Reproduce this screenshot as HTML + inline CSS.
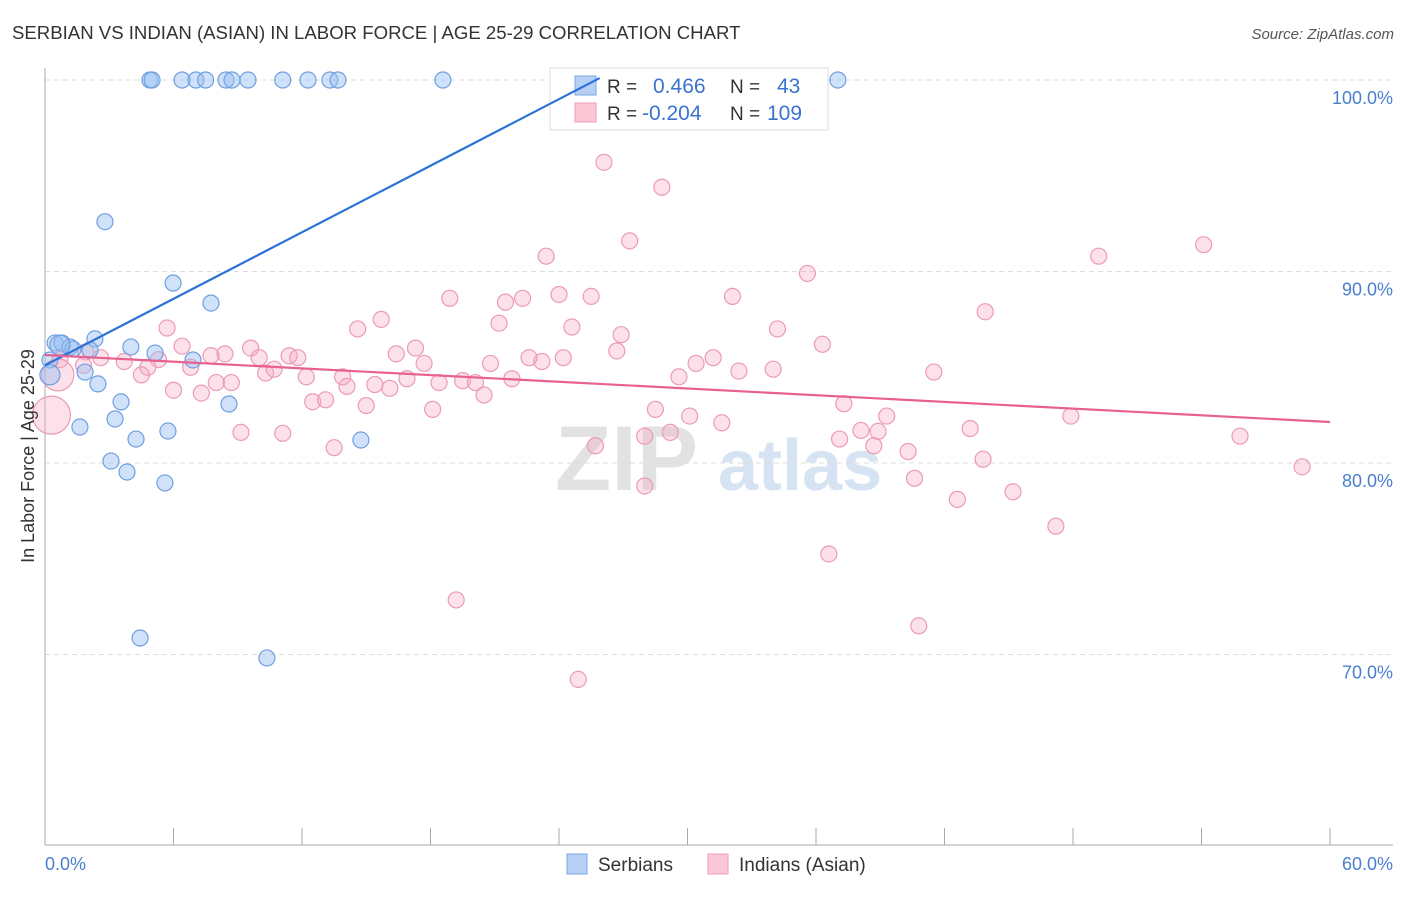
<!DOCTYPE html>
<html><head><meta charset="utf-8">
<style>
body{margin:0;background:#fff;font-family:"Liberation Sans",sans-serif;}
svg text{font-family:"Liberation Sans",sans-serif;}
</style></head>
<body>
<svg id="chart" width="1406" height="892" xmlns="http://www.w3.org/2000/svg">
<text x="12" y="39" font-size="18.6" fill="#333">SERBIAN VS INDIAN (ASIAN) IN LABOR FORCE | AGE 25-29 CORRELATION CHART</text>
<text x="1394" y="39" font-size="15" fill="#555" font-style="italic" text-anchor="end">Source: ZipAtlas.com</text>
<g>
<text x="555" y="490" font-size="92" fill="#e2e2e2" font-family="Liberation Serif" font-weight="bold">ZIP</text>
<text x="718" y="490" font-size="72" fill="#d6e3f3" font-weight="bold">atlas</text>
</g>
<g id="grid"></g>
<g id="axes"></g>
<g>
<rect x="550" y="68" width="278" height="62" fill="#fff" stroke="#ddd"/>
<rect x="575" y="76" width="21" height="19" fill="#b6d0f5" stroke="#7aa7e3"/>
<rect x="575" y="103" width="21" height="19" fill="#fcc8d8" stroke="#ef9db8"/>
<text x="607" y="93" font-size="19" fill="#333">R =</text>
<text x="653" y="93" font-size="21" fill="#3b73d0">0.466</text>
<text x="730" y="93" font-size="19" fill="#333">N =</text>
<text x="777" y="93" font-size="21" fill="#3b73d0">43</text>
<text x="607" y="120" font-size="19" fill="#333">R =</text>
<text x="642" y="120" font-size="21" fill="#3b73d0">-0.204</text>
<text x="730" y="120" font-size="19" fill="#333">N =</text>
<text x="767" y="120" font-size="21" fill="#3b73d0">109</text>
</g>
<g id="pts"></g>
<g id="trends"></g>
<text transform="translate(34,456) rotate(-90)" font-size="18" fill="#333" text-anchor="middle">In Labor Force | Age 25-29</text>
<text x="45" y="870" font-size="18" fill="#4a7fd0">0.0%</text>
<text x="1393" y="870" font-size="18" fill="#4a7fd0" text-anchor="end">60.0%</text>
<g>
<rect x="567" y="854" width="20" height="20" fill="#b6d0f5" stroke="#7aa7e3"/>
<text x="598" y="871" font-size="19" fill="#333">Serbians</text>
<rect x="708" y="854" width="20" height="20" fill="#fcc8d8" stroke="#ef9db8"/>
<text x="739" y="871" font-size="19" fill="#333">Indians (Asian)</text>
</g>
</svg>
<script>
const yTicks=[100,90,80,70];
const yTickLabels=["100.0%","90.0%","80.0%","70.0%"];
const xTicks=[0,6,12,18,24,30,36,42,48,54,60];
const serbX=[4.9,5.0,6.4,7.05,7.5,8.45,8.73,9.48,11.1,12.28,13.3,13.68,18.58,37.02,2.8,5.98,7.75,0.47,0.79,1.17,2.33,2.1,4.01,5.14,6.91,1.31,0.23,1.87,2.47,3.55,3.27,8.59,1.63,5.74,4.25,14.75,3.08,3.83,5.6,4.44,10.36,0.23,0.7];
const serbY=[100,100,100,100,100,100,100,100,100,100,100,100,100,100,92.6,89.4,88.35,86.27,86.27,86.06,86.48,85.9,86.06,85.74,85.38,85.95,85.38,84.75,84.13,83.19,82.3,83.08,81.88,81.67,81.25,81.2,80.1,79.53,78.96,70.86,69.82,84.6,86.16];
const indX=[26.1,28.8,27.3,23.4,54.1,49.2,35.6,18.9,24.0,25.5,21.5,22.3,32.1,43.9,21.2,24.6,26.9,15.7,14.6,34.2,5.7,36.3,17.3,9.6,11.4,6.4,8.4,7.75,11.8,10.0,23.2,24.2,16.4,17.7,20.8,22.6,26.7,31.2,30.4,5.3,3.7,2.6,1.9,0.7,1.8,4.8,4.5,6.8,10.3,10.7,12.2,13.9,14.1,15.4,16.1,16.9,18.4,19.5,20.1,21.8,29.6,32.4,34.0,41.5,6.0,7.3,8.0,8.7,12.5,13.1,15.0,18.1,20.5,28.5,30.1,31.6,37.3,39.3,47.9,55.8,9.15,11.1,13.5,25.7,28.0,29.2,37.1,38.1,38.9,40.3,43.2,43.8,38.7,40.6,58.7,42.6,45.2,47.2,28.0,36.6,19.2,40.8,24.9,0.3,0.6];
const indY=[95.7,94.4,91.6,90.8,91.4,90.8,89.9,88.6,88.8,88.7,88.4,88.6,88.7,87.9,87.3,87.1,86.7,87.5,87.0,87.0,87.05,86.2,86.0,86.0,85.6,86.1,85.7,85.6,85.5,85.5,85.3,85.5,85.7,85.2,85.2,85.5,85.85,85.5,85.2,85.4,85.3,85.5,85.8,85.4,85.1,85.0,84.6,85.0,84.7,84.9,84.5,84.5,84.0,84.1,83.9,84.4,84.2,84.3,84.2,84.4,84.5,84.8,84.9,84.75,83.8,83.65,84.2,84.2,83.2,83.3,83.0,82.8,83.55,82.8,82.45,82.1,83.1,82.45,82.45,81.4,81.6,81.55,80.8,80.9,81.4,81.6,81.25,81.7,81.65,80.6,81.8,80.2,80.9,79.2,79.8,78.1,78.5,76.7,78.8,75.25,72.85,71.5,68.7,82.5,84.6];
const serbTrend=[0,85.1,25.9,100.1];
const indTrend=[0,85.64,60,82.14];

const NS="http://www.w3.org/2000/svg";
const xs=v=>45+v/60*1285;
const ys=v=>80+(100-v)*19.15;
function mk(tag,attrs,parent){const e=document.createElementNS(NS,tag);for(const k in attrs)e.setAttribute(k,attrs[k]);parent.appendChild(e);return e;}
const grid=document.getElementById('grid'),axes=document.getElementById('axes'),pts=document.getElementById('pts'),tr=document.getElementById('trends');
yTicks.forEach((t,i)=>{
 const l=mk('line',{x1:45,x2:1393,y1:ys(t),y2:ys(t),stroke:'#ddd','stroke-dasharray':'5,4'},grid);
 
 
 const tx=mk('text',{x:1393,y:ys(t)+24,'font-size':18,fill:'#4a7fd0','text-anchor':'end'},grid);
 tx.textContent=yTickLabels[i];
 
 
});
const ya=mk('line',{x1:45,x2:45,y1:68,y2:845,stroke:'#aaa'},axes);


const xa=mk('line',{x1:45,x2:1393,y1:845,y2:845,stroke:'#aaa'},axes);


xTicks.forEach(t=>{
 const l=mk('line',{x1:xs(t),x2:xs(t),y1:828,y2:845,stroke:'#aaa'},axes);
 
 
});
indX.forEach((x,i)=>{
 const big=(i>=indX.length-2);
 const c=mk('circle',{cx:xs(x),cy:ys(indY[i]),r:big?(i==indX.length-2?19:16):8,fill:'rgba(246,168,195,0.35)',stroke:'#ec9ab6','stroke-width':1.2},pts);
 
 
});
serbX.forEach((x,i)=>{
 const big=(i>=serbX.length-2);
 const c=mk('circle',{cx:xs(x),cy:ys(serbY[i]),r:big?10:8,fill:'rgba(150,190,242,0.45)',stroke:'#6f9fe0','stroke-width':1.2},pts);
 
 
});
const bl=mk('line',{x1:xs(serbTrend[0]),y1:ys(serbTrend[1]),x2:xs(serbTrend[2]),y2:ys(serbTrend[3]),stroke:'#2a72d6','stroke-width':2.2},tr);


const pl=mk('line',{x1:xs(indTrend[0]),y1:ys(indTrend[1]),x2:xs(indTrend[2]),y2:ys(indTrend[3]),stroke:'#e8608f','stroke-width':2.2},tr);


</script>
</body></html>
